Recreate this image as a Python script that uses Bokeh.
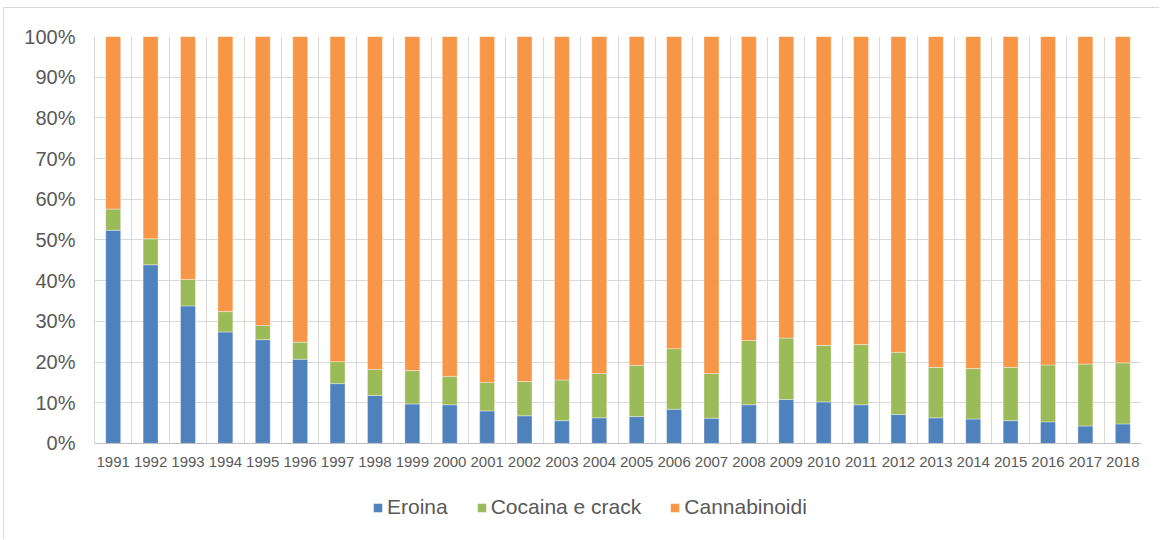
from bokeh.plotting import figure
from bokeh.models import (Range1d, FixedTicker, PrintfTickFormatter, Legend, LegendItem,
                          ColumnDataSource, Span, BoxAnnotation)
from bokeh.core.properties import value
from bokeh.embed import file_html
from bokeh.resources import INLINE

years = [1991, 1992, 1993, 1994, 1995, 1996, 1997, 1998, 1999, 2000,
         2001, 2002, 2003, 2004, 2005, 2006, 2007, 2008, 2009, 2010,
         2011, 2012, 2013, 2014, 2015, 2016, 2017, 2018]
eroina = [52.4, 43.9, 33.8, 27.4, 25.5, 20.7, 14.7, 11.8, 9.7, 9.5,
          8.0, 6.8, 5.6, 6.3, 6.6, 8.4, 6.2, 9.5, 10.8, 10.2,
          9.5, 7.1, 6.3, 6.0, 5.6, 5.3, 4.3, 4.8]
cocaina = [5.2, 6.4, 6.5, 5.0, 3.5, 4.2, 5.4, 6.4, 8.2, 7.0,
           7.0, 8.4, 10.0, 10.9, 12.6, 14.9, 11.0, 15.8, 15.1, 13.9,
           14.8, 15.3, 12.4, 12.4, 13.1, 14.0, 15.2, 15.0]
cannabinoidi = [42.4, 49.7, 59.7, 67.6, 71.0, 75.1, 79.9, 81.8, 82.1, 83.5,
                85.0, 84.8, 84.4, 82.8, 80.8, 76.7, 82.8, 74.7, 74.1, 75.9,
                75.7, 77.6, 81.3, 81.6, 81.3, 80.7, 80.5, 80.2]
series_names = ["Eroina", "Cocaina e crack", "Cannabinoidi"]
colors = ["#4f81bd", "#9bbb59", "#f79646"]
y_ticks = [0, 10, 20, 30, 40, 50, 60, 70, 80, 90, 100]

source = ColumnDataSource(dict(year=years, Eroina=eroina,
                               **{"Cocaina e crack": cocaina},
                               Cannabinoidi=cannabinoidi,
                               label=[str(y) for y in years],
                               base=[0] * len(years)))

FONT = "Liberation Sans"
TXT = "#595959"

# frame extends below the 0% line so the category labels and legend can live inside it
p = figure(width=1156, height=532, output_backend="svg", toolbar_location=None,
           x_range=Range1d(years[0] - 0.5, years[-1] + 0.5),
           y_range=Range1d(-23.85, 100),
           min_border_left=90, min_border_right=19, min_border_top=28,
           min_border_bottom=0)
p.styles = {"margin-left": "3px", "margin-top": "7px",
            "border-left": "1px solid #d9d9d9", "border-top": "1px solid #d9d9d9"}

p.outline_line_color = None
p.background_fill_color = "white"
p.border_fill_color = "white"

# grids
p.ygrid.ticker = FixedTicker(ticks=y_ticks)
p.ygrid.grid_line_color = "#d9d9d9"
p.xgrid.ticker = FixedTicker(ticks=[y - 0.5 for y in years] + [years[-1] + 0.5])
p.xgrid.grid_line_color = "#d9d9d9"

# mask the grid below the 0% line
p.add_layout(BoxAnnotation(top=0, fill_color="white", fill_alpha=1.0,
                           line_color=None, level="underlay"))

renderers = p.vbar_stack(series_names, x="year", width=0.4, source=source,
                         color=colors, line_color="white", line_width=0.6, line_alpha=0.6)

# category axis line at 0%
p.add_layout(Span(location=0, dimension="width", line_color="#bfbfbf", line_width=1))

# y axis
p.yaxis.ticker = FixedTicker(ticks=y_ticks)
p.yaxis.bounds = (0, 100)
p.yaxis.formatter = PrintfTickFormatter(format="%d%%")
p.yaxis.major_tick_line_color = None
p.yaxis.minor_tick_line_color = None
p.yaxis.major_tick_out = 0
p.yaxis.major_label_standoff = 19
p.yaxis.axis_line_color = "#d9d9d9"
p.yaxis.major_label_text_font = FONT
p.yaxis.major_label_text_font_size = "20px"
p.yaxis.major_label_text_color = TXT

# x axis hidden; category labels drawn under the 0% line
p.xaxis.visible = False
p.text(x="year", y="base", text="label", source=source, y_offset=14,
       text_align="center", text_baseline="top", text_font=value(FONT),
       text_font_size="15px", text_color=TXT)

legend = Legend(items=[LegendItem(label=n, renderers=[r]) for n, r in zip(series_names, renderers)],
                orientation="horizontal", location=(278, 21),
                label_text_font=FONT, label_text_font_size="21px", label_text_color=TXT,
                glyph_width=11, glyph_height=11, label_standoff=4, spacing=28,
                padding=0, margin=0, border_line_color=None, background_fill_alpha=0)
p.add_layout(legend, "center")

open("out.html", "w").write(file_html(p, INLINE))
